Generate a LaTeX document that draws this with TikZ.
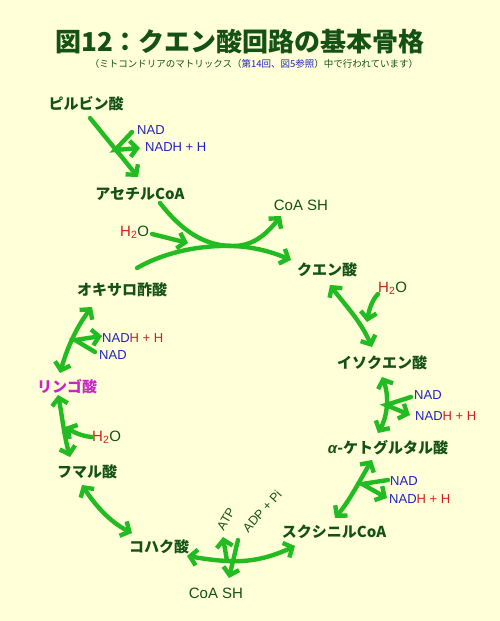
\documentclass[tikz,border=0pt]{standalone}
\usepackage{fontspec}
\setmainfont{Liberation Sans}
\newfontfamily\jp{Noto Sans CJK JP}
\usetikzlibrary{arrows.meta}
\definecolor{bg}{HTML}{FFFFD8}
\definecolor{dg}{HTML}{145214}
\definecolor{ag}{HTML}{22BB22}
\definecolor{nb}{HTML}{2222C0}
\definecolor{nr}{HTML}{D02020}
\definecolor{mg}{HTML}{CC22CC}
\begin{document}
\begin{tikzpicture}[x=1pt,y=-1pt,
  ar/.style={draw=ag,line width=4.4pt,line cap=round},
  tp/.style={-{Straight Barb[length=7pt,width=16pt,line width=4.4pt]}},
  tt/.style={{Straight Barb[length=7pt,width=16pt,line width=4.4pt]}-{Straight Barb[length=7pt,width=16pt,line width=4.4pt]}},
  lab/.style={inner sep=0pt,text=dg,font=\jp\bfseries\fontsize{15}{18}\selectfont},
  sm/.style={inner sep=0pt,font=\fontsize{13}{15}\selectfont},
  coa/.style={inner sep=0pt,text=dg,font=\fontsize{15}{18}\selectfont}]
\fill[bg] (0,0) rectangle (500,621);
\useasboundingbox (0,0) rectangle (500,621);
% title
\node[inner sep=0pt,text=dg,font=\jp\bfseries\fontsize{26}{30}\selectfont] (title) at (240,42) {図12：クエン酸回路の基本骨格};
\node[inner sep=0pt,text=dg,font=\jp\fontsize{9.5}{11}\selectfont] (sub) at (254,64) {（ミトコンドリアのマトリックス（\textcolor{nb}{第14回、図5参照}）中で行われています）};
% labels
\node[lab] (pyr) at (86,104) {ピルビン酸};
\node[sm,text=nb,anchor=west] (nad1) at (137,130) {NAD};
\node[sm,text=nb,anchor=west] (nadh1) at (145,147) {NADH + H};
\node[lab] (acc) at (140,194) {アセチルCoA};
\node[coa] (coash1) at (301,205) {CoA SH};
\node[coa,anchor=west] (h2o1) at (120,232) {\textcolor{nr}{H\textsubscript{2}}O};
\node[lab] (cit) at (327,270) {クエン酸};
\node[lab] (oxa) at (122,290) {オキサロ酢酸};
\node[coa,anchor=west] (h2o2) at (378,288) {\textcolor{nr}{H\textsubscript{2}}O};
\node[sm,text=nb,anchor=west] (nadh4) at (102,338) {NAD\textcolor{nr}{H + H}};
\node[sm,text=nb,anchor=west] (nad4) at (99,355) {NAD};
\node[lab,text=mg] (mal) at (67,387) {リンゴ酸};
\node[coa,anchor=west] (h2o3) at (92,437) {\textcolor{nr}{H\textsubscript{2}}O};
\node[lab] (fum) at (87,472) {フマル酸};
\node[lab] (iso) at (382,363) {イソクエン酸};
\node[sm,text=nb,anchor=west] (nad2) at (414,395) {NAD};
\node[sm,text=nb,anchor=west] (nadh2) at (415,416) {NAD\textcolor{nr}{H + H}};
\node[lab] (akg) at (388,448) {{\normalfont\bfseries\itshape α}-ケトグルタル酸};
\node[sm,text=nb,anchor=west] (nad3) at (390,481) {NAD};
\node[sm,text=nb,anchor=west] (nadh3) at (389,499) {NAD\textcolor{nr}{H + H}};
\node[lab] (suc) at (334,532) {スクシニルCoA};
\node[lab] (sa) at (159,547) {コハク酸};
\node[coa] (coash2) at (216,593) {CoA SH};
\node[inner sep=0pt,text=dg,font=\fontsize{12.5}{14}\selectfont,rotate=60] (atp) at (226,519) {ATP};
\node[inner sep=0pt,text=dg,font=\fontsize{12.5}{14}\selectfont,rotate=48] (adp) at (262,511) {ADP + Pi};
% coordinates
\coordinate (p1) at (90,118); \coordinate (p2) at (138,177);
\coordinate (b1) at (132,132); \coordinate (j1) at (115,150); \coordinate (b1e) at (140,148);
\coordinate (m) at (233,246);
\coordinate (ac1) at (160,203); \coordinate (ce) at (281,216);
\coordinate (ox1) at (137,268); \coordinate (ci) at (291,260);
\coordinate (w1s) at (152,234); \coordinate (w1e) at (188,243);
\coordinate (c1) at (330,285); \coordinate (c2) at (372,347);
\coordinate (w2s) at (378,294); \coordinate (w2e) at (367,322);
\coordinate (i1) at (382,377); \coordinate (i2) at (378,433);
\coordinate (n2s) at (411,397); \coordinate (j2) at (386,405); \coordinate (n2e) at (410,415);
\coordinate (k1) at (372,460); \coordinate (k2) at (335,518);
\coordinate (n3s) at (388,480); \coordinate (j3) at (362,484); \coordinate (n3e) at (387,498);
\coordinate (s1) at (295,546); \coordinate (s2) at (187,556); \coordinate (j4) at (227,561);
\coordinate (atpe) at (223,537); \coordinate (adps) at (238,540); \coordinate (j5) at (233,561); \coordinate (coae) at (229,578);
\coordinate (f1) at (82,485); \coordinate (f2) at (132,533);
\coordinate (l1) at (58,395); \coordinate (l2) at (70,457);
\coordinate (w3s) at (92,437); \coordinate (w3e) at (65,427);
\coordinate (o1) at (60,373); \coordinate (o2) at (92,307);
\coordinate (n4s) at (95,352); \coordinate (j6) at (75,340); \coordinate (n4e) at (102,336);
% arrows
\draw[ar,tp] (p1) -- (p2);
\draw[ar,tp] (b1) -- (j1) -- (b1e);
\draw[ar,tp] (ac1) .. controls (185,235) and (208,246) .. (m) .. controls (255,246) and (268,232) .. (ce);
\draw[ar,tp] (ox1) .. controls (165,252) and (200,245) .. (m) .. controls (255,247) and (272,252) .. (ci);
\draw[ar,tp] (w1s) -- (w1e);
\draw[ar,tt] (c1) .. controls (345,305) and (360,320) .. (c2);
\draw[ar,tp] (w2s) .. controls (372,300) and (369,310) .. (w2e);
\draw[ar,tt] (i1) .. controls (389,395) and (388,415) .. (i2);
\draw[ar,tp] (n2s) -- (j2) -- (n2e);
\draw[ar,tt] (k1) .. controls (360,480) and (350,500) .. (k2);
\draw[ar,tp] (n3s) -- (j3) -- (n3e);
\draw[ar,tt] (s1) .. controls (265,560) and (245,562) .. (j4) .. controls (210,560) and (200,558) .. (s2);
\draw[ar,tp] (j4) -- (atpe);
\draw[ar,tp] (adps) -- (j5) -- (coae);
\draw[ar,tt] (f1) .. controls (95,505) and (110,522) .. (f2);
\draw[ar,tt] (l1) .. controls (62,415) and (64,435) .. (l2);
\draw[ar,tp] (w3s) .. controls (80,436) and (72,431) .. (w3e);
\draw[ar,tt] (o1) .. controls (68,345) and (78,325) .. (o2);
\draw[ar,tp] (n4s) -- (j6) -- (n4e);
\end{tikzpicture}
\end{document}
